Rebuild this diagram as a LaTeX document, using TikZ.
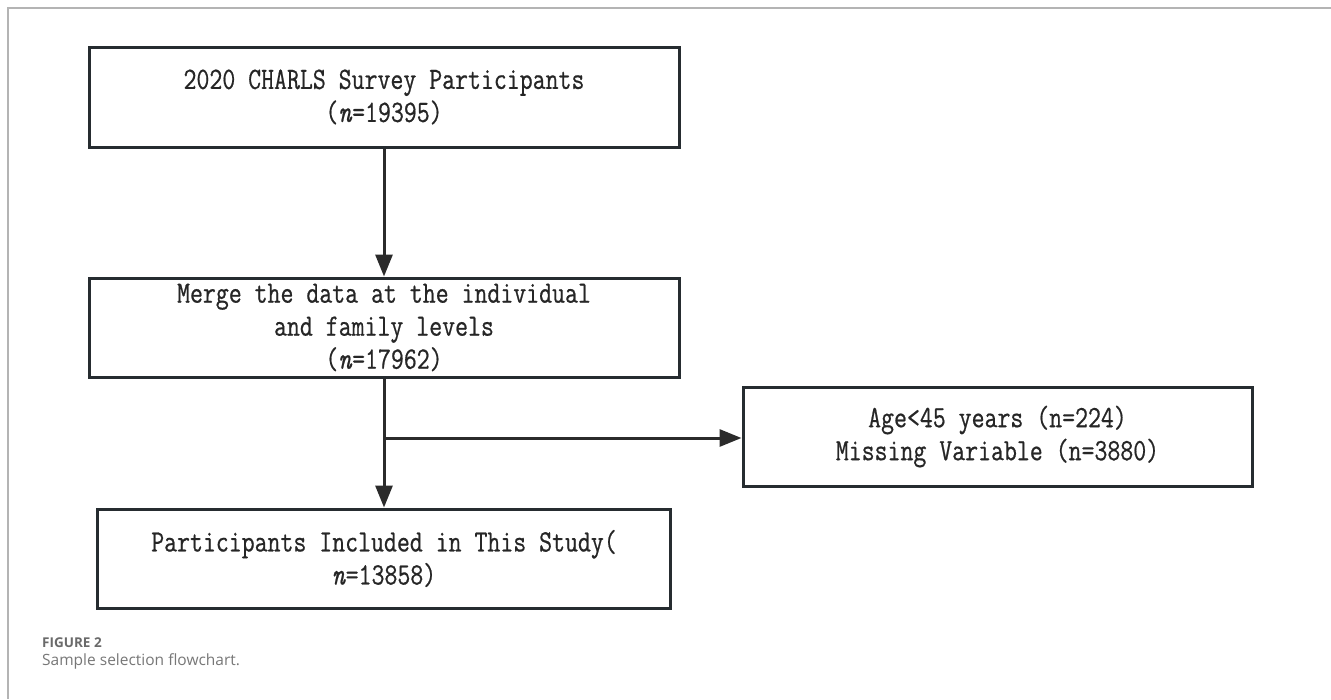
\documentclass[tikz,border=0pt]{standalone}
\usepackage{fontspec}
\usetikzlibrary{arrows.meta}
\newfontfamily\boxfont[FakeStretch=0.81,FakeBold=0.6]{Latin Modern Mono}
\newfontfamily\capfont{Open Sans}
\definecolor{boxline}{HTML}{262C30}
\definecolor{arrline}{HTML}{2B2B2B}
\definecolor{frameg}{HTML}{B4B4B4}
\definecolor{capg}{HTML}{777777}
\definecolor{figg}{HTML}{6A6A6A}
\begin{document}
\begin{tikzpicture}[x=1pt,y=-1pt,
  stepbox/.style={draw=boxline,line width=3pt,rectangle,align=center,inner sep=0pt,
    font=\boxfont\fontsize{31}{33}\selectfont,text=black!85},
  arr/.style={draw=arrline,line width=3pt,-{Triangle[width=17pt,length=22pt]}},
  plain/.style={draw=arrline,line width=3pt}]
\useasboundingbox (0,0) rectangle (1331,699);
\fill[white] (0,0) rectangle (1331,699);
\draw[frameg,line width=1.5pt] (8,699) -- (8,8) -- (1331,8);
\node[stepbox,minimum width=590pt,minimum height=100pt] (b1) at (384,97)
  {\raisebox{-5pt}{\parbox{560pt}{\centering 2020 CHARLS Survey Participants\\(\textit{n}=19395)}}};
\node[stepbox,minimum width=590pt,minimum height=99pt] (b2) at (384,327.5)
  {\raisebox{-3pt}{\parbox{560pt}{\centering Merge the data at the individual\\and family levels\\(\textit{n}=17962)}}};
\node[stepbox,minimum width=509pt,minimum height=99pt] (b3) at (997.5,436.5)
  {\raisebox{-3pt}{\parbox{480pt}{\centering Age<45 years (n=224)\\Missing Variable (n=3880)}}};
\node[stepbox,minimum width=573pt,minimum height=99pt] (b4) at (384,558.5)
  {\raisebox{-3pt}{\parbox{540pt}{\centering Participants Included in This Study(\\\textit{n}=13858)}}};
\coordinate (j) at (384,438);
\draw[arr] (b1) -- (b2);
\draw[arr] (b2) -- (b4);
\draw[arr] (j) -- (j -| b3.west);
\node[anchor=base west,inner sep=0pt,font=\capfont\bfseries\fontsize{13.5}{16}\selectfont,text=figg] (fig) at (42,647) {FIGURE 2};
\node[anchor=base west,inner sep=0pt,font=\capfont\fontsize{15.5}{18}\selectfont,text=capg] (cap) at (42,665) {Sample selection flowchart.};
\end{tikzpicture}
\end{document}
